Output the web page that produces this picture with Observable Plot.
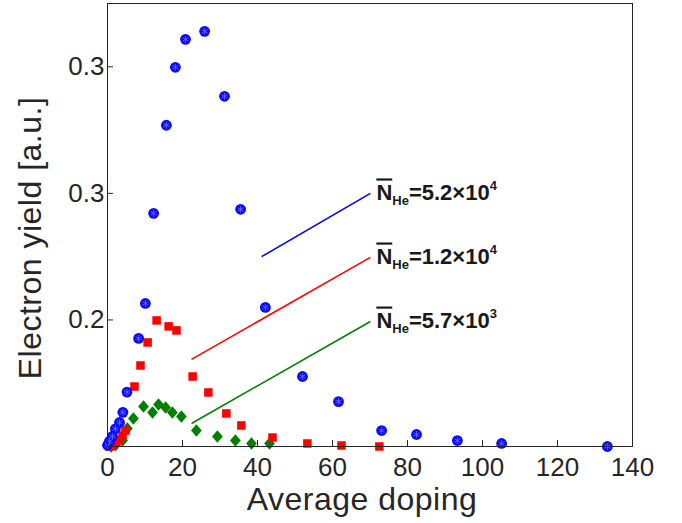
<!DOCTYPE html>
<html><head><meta charset="utf-8">
<script src="https://cdn.jsdelivr.net/npm/d3@7"></script>
<script src="https://cdn.jsdelivr.net/npm/@observablehq/plot@0.6"></script>
<style>body{margin:0;background:#fff}</style>
</head><body><div id="chart"></div>
<script>
// N_He = 5.2e4 (blue circles)
const blueX = [0, 0.5, 1.3, 2.1, 3.2, 4.1, 5.2, 8.3, 10.1, 12.3, 15.7, 18.1, 20.8, 25.9, 31.2, 35.5, 42.1, 52.0, 61.6, 73.1, 82.4, 93.3, 105.1, 133.3];
const blueY = [0.051, 0.054, 0.058, 0.064, 0.069, 0.077, 0.093, 0.1354, 0.163, 0.2342, 0.3038, 0.3496, 0.3717, 0.378, 0.3267, 0.2374, 0.1599, 0.1053, 0.0855, 0.0626, 0.0595, 0.0547, 0.0524, 0.050];
// N_He = 1.2e4 (red squares)
const redX = [0.5, 1.5, 2.3, 3.0, 4.0, 4.8, 7.2, 8.8, 10.7, 13.1, 16.3, 18.4, 22.7, 26.9, 31.7, 35.7, 44.0, 53.3, 62.4, 72.5];
const redY = [0.050, 0.051, 0.053, 0.055, 0.0587, 0.0626, 0.0974, 0.114, 0.1322, 0.1496, 0.1449, 0.1417, 0.1053, 0.0927, 0.0761, 0.0666, 0.0571, 0.0524, 0.0508, 0.050];
// N_He = 5.7e3 (green diamonds)
const greenX = [1.0, 2.1, 4.0, 5.3, 6.9, 9.6, 12.0, 13.6, 15.5, 17.3, 19.7, 23.7, 29.3, 34.1, 38.4, 43.2];
const greenY = [0.050, 0.051, 0.0547, 0.0642, 0.0721, 0.0816, 0.0769, 0.0832, 0.0808, 0.0769, 0.0737, 0.0626, 0.0579, 0.0547, 0.0524, 0.0524];

// annotation lines (start / end) and labels
const annotX1 = [41.1, 22.4, 22.4];
const annotY1 = [0.200, 0.1188, 0.0682];
const annotX2 = [70.1, 70.1, 70.1];
const annotY2 = [0.250, 0.1994, 0.1488];
const annotMantissa = ["5.2", "1.2", "5.7"];
const annotExponent = ["4", "4", "3"];
const annotColors = ["#0000ff", "#ff0000", "#008000"];

const xTicks = [0, 20, 40, 60, 80, 100, 120, 140];
const yTicks = [0.15, 0.25, 0.35];
const yTickLabels = ["0.2", "0.3", "0.3"];
const xTitle = "Average doping";
const yTitle = "Electron yield [a.u.]";

const toPts = (xs, ys) => xs.map((x, i) => ({x, y: ys[i]}));
const blue = toPts(blueX, blueY);
const red = toPts(redX, redY);
const green = toPts(greenX, greenY);
const annot = annotX1.map((x1, i) => ({x1, y1: annotY1[i], x2: annotX2[i], y2: annotY2[i], c: annotColors[i], m: annotMantissa[i], e: annotExponent[i]}));

const diamond = {draw(ctx, size) {
  const a = Math.sqrt(size / 2.3), b = 1.15 * a;
  ctx.moveTo(0, -b); ctx.lineTo(a, 0); ctx.lineTo(0, b); ctx.lineTo(-a, 0); ctx.closePath();
}};

const font = "'Liberation Sans', Arial, sans-serif";
const ink = "#262626";

const chart = Plot.plot({
  width: 682, height: 523,
  marginLeft: 107, marginRight: 50, marginTop: 3, marginBottom: 77,
  style: {fontFamily: font, background: "#fff", color: ink, overflow: "visible"},
  x: {domain: [0, 140]},
  y: {domain: [0.05, 0.40]},
  marks: [
    Plot.tickX(xTicks, {x: d => d, insetTop: 437, stroke: ink}),
    Plot.tickY(yTicks, {y: d => d, insetRight: 519, stroke: ink}),
    Plot.axisX({ticks: xTicks, tickSize: 0, tickPadding: 11, fontSize: 26, label: null, tickFormat: d => String(d)}),
    Plot.axisY({ticks: yTicks, tickSize: 0, tickPadding: 3, fontSize: 26, label: null, tickFormat: d => yTickLabels[yTicks.indexOf(d)]}),
    Plot.text([xTitle], {frameAnchor: "bottom", lineAnchor: "middle", textAnchor: "middle", dx: -8, dy: 53, fontSize: 32, fill: ink}),
    Plot.text([yTitle], {frameAnchor: "left", textAnchor: "middle", lineAnchor: "middle", rotate: -90, dx: -77, dy: 13, fontSize: 32, fill: ink}),
    Plot.link(annot, {x1: "x1", y1: "y1", x2: "x2", y2: "y2", stroke: "c", strokeWidth: 1.6}),
    Plot.text(annot, {x: "x2", y: "y2", text: "m", dx: 6, textAnchor: "start", fontWeight: "bold", fontSize: 22, fill: "#1a1a1a"}),
    Plot.dot(green, {x: "x", y: "y", symbol: diamond, r: 4.6, fill: "#008000", stroke: "none"}),
    Plot.dot(red, {x: "x", y: "y", symbol: "square", r: 4.8, fill: "#ff0000", stroke: "none"}),
    Plot.dot(blue, {x: "x", y: "y", r: 5.4, fill: "#0a0aff", stroke: "none"}),
    Plot.dot(blue, {x: "x", y: "y", symbol: "asterisk", r: 3.2, stroke: "#7070ff", strokeWidth: 0.8}),
    Plot.frame({stroke: ink})
  ]
});

d3.select(chart).selectAll("text").each(function() {
  const t = d3.select(this);
  const s = this.textContent;
  if (s === xTitle || s === yTitle) { t.style("letter-spacing", "0.5px"); return; }
  const a = annot.find(d => d.m === s);
  if (!a) return;
  // overlined N, subscript He, superscript exponent
  t.text(null);
  t.append("tspan").text("N").style("text-decoration", "overline");
  t.append("tspan").text("He").attr("font-size", 13).attr("dy", 5);
  t.append("tspan").text("=" + a.m + "×10").attr("dy", -5);
  t.append("tspan").text(a.e).attr("font-size", 13).attr("dy", -10);
});

document.getElementById("chart").appendChild(chart);
</script>
</body></html>
